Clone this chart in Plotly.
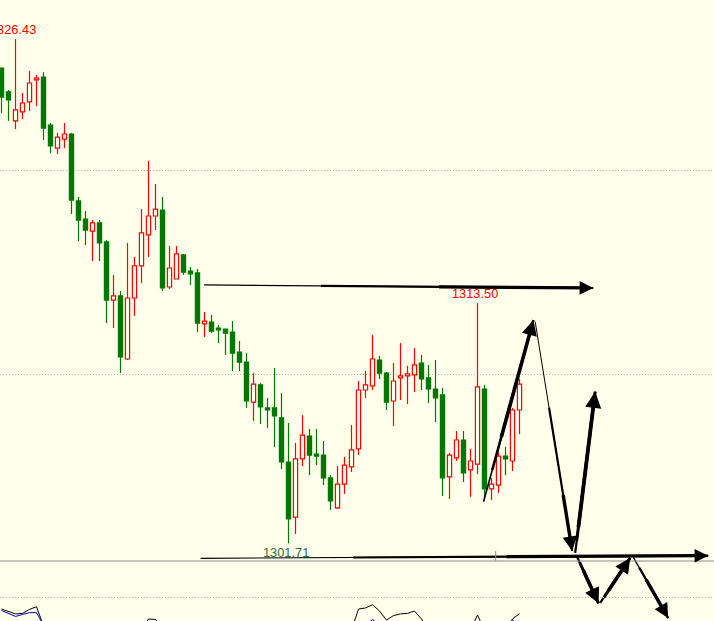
import plotly.graph_objects as go

# ---------------- data ----------------
opens = [1325.01,1323.84,1322.42,1322.86,1323.35,1324.43,1324.57,1322.22,1321.09,1321.53,
         1321.78,1318.50,1317.61,1317.02,1317.42,1316.49,1313.64,1313.84,1310.75,1313.74,
         1315.31,1316.83,1317.76,1318.05,1314.28,1314.67,1315.85,1315.06,1314.97,1312.47,
         1312.56,1312.27,1312.22,1312.07,1311.09,1310.60,1308.64,1309.48,1308.35,1308.35,
         1307.86,1305.70,1303.00,1305.85,1306.97,1306.09,1306.04,1304.92,1303.45,1304.62,
         1305.46,1306.34,1309.23,1309.43,1310.70,1310.06,1308.69,1309.82,1309.92,1309.97,
         1310.55,1309.82,1309.28,1308.99,1304.97,1305.90,1306.78,1305.31,1305.60,1309.28,
         1304.38,1304.57,1305.99,1305.75,1308.25]
highs = [1325.01,1323.94,1326.43,1323.79,1324.87,1324.67,1324.82,1322.32,1321.83,1322.32,
         1321.83,1318.69,1318.00,1317.56,1317.56,1316.58,1314.87,1314.08,1316.44,1315.75,
         1318.10,1320.46,1319.33,1318.69,1316.29,1316.29,1315.90,1315.26,1315.16,1313.05,
         1312.91,1312.42,1312.22,1312.61,1311.63,1311.04,1310.06,1309.57,1308.84,1310.31,
         1309.08,1307.61,1306.63,1308.00,1307.32,1307.32,1306.73,1305.06,1305.50,1305.95,
         1307.51,1309.67,1310.16,1311.93,1310.90,1310.11,1310.55,1311.53,1310.41,1311.29,
         1310.95,1310.46,1310.70,1309.33,1306.14,1307.22,1307.22,1306.34,1313.50,1309.48,
         1304.92,1306.19,1306.44,1308.35,1309.77]
lows = [1322.81,1322.42,1322.02,1322.51,1322.91,1323.15,1321.49,1320.85,1320.80,1321.09,
        1317.86,1316.53,1316.34,1315.55,1315.55,1312.51,1312.27,1310.06,1310.70,1312.86,
        1314.48,1315.75,1317.07,1314.08,1314.18,1314.67,1314.87,1314.38,1312.07,1311.83,
        1312.02,1311.53,1310.95,1310.16,1310.16,1308.35,1307.71,1307.56,1307.37,1306.44,
        1305.36,1301.71,1302.17,1305.50,1305.06,1305.55,1304.57,1303.35,1303.40,1304.13,
        1305.21,1306.04,1308.84,1309.23,1309.77,1308.25,1307.47,1308.74,1308.54,1309.13,
        1309.23,1308.59,1307.66,1304.03,1303.89,1305.75,1304.72,1303.99,1305.11,1303.99,
        1303.84,1304.18,1305.06,1305.26,1307.07]
closes = [1323.59,1323.45,1322.96,1323.30,1324.28,1324.52,1322.07,1321.19,1321.63,1321.78,
          1318.54,1317.56,1317.07,1317.42,1316.44,1313.64,1313.84,1310.85,1313.74,1315.31,
          1316.93,1317.76,1318.10,1314.23,1315.21,1315.90,1315.01,1314.92,1312.51,1312.61,
          1312.12,1312.17,1312.02,1311.04,1310.60,1308.69,1309.52,1308.40,1308.25,1307.96,
          1305.70,1302.91,1305.85,1307.02,1306.04,1305.99,1304.92,1303.79,1304.62,1305.55,
          1306.29,1309.23,1309.48,1310.75,1310.06,1308.64,1309.67,1309.92,1310.02,1310.46,
          1309.77,1309.28,1308.84,1304.92,1306.04,1306.78,1305.16,1305.75,1309.38,1304.38,
          1304.62,1305.99,1305.85,1308.25,1309.52]

# indicator window (only the visible parts)
ind_black = ([73.3, 71.9, 70.6, 70.9, 73.1, 74.6, 63.9] + [None] * 13 +
             [61.7, 67.8, 67.5, 61.7] + [None] * 26 +
             [61.7, 73.3, 73.9, 75.7, 72.2, 67.2, 69.7, 70.6, 70.9, 72.2, 67.8, 60.6] +
             [None] * 5 + [61.7, 70.0, 61.7] + [None] * 2 + [60.6, 67.8, 70.8])
ind_blue = ([72.5, 70.8, 69.2, 70.3, 71.3, 71.3, 64.4] + [None] * 45 +
            [64.4, 67.5, 64.4] + [None] * 17 + [60.0, 67.2, 64.0])

# drawn arrows: (start bar, start price, end bar, end price)
arrow_top = (28.96, 1314.38, 84.53, 1314.23)
arrow_bottom = (28.44, 1300.98, 100.96, 1301.11)
arrow_path = [
    (68.86, 1303.75, 75.99, 1312.66),
    (76.24, 1312.58, 81.53, 1301.34),
    (81.96, 1301.24, 84.81, 1309.15),
    (82.24, 1301.04, 85.29, 1298.77),
    (85.53, 1298.79, 89.81, 1301.00),
    (90.24, 1301.04, 95.24, 1298.05),
]

grid_levels = [1310, 1320]
label_high = "1326.43"
label_high2 = "1313.50"
label_low = "1301.71"

# ---------------- figure ----------------
BG = "#FFFFEC"
GREEN = "#007800"
RED = "#FF0000"

x = list(range(len(opens)))
fig = go.Figure()

up_x, up_base, up_h = [], [], []
dn_x, dn_base, dn_h = [], [], []
wick_up_x, wick_up_y, wick_dn_x, wick_dn_y = [], [], [], []
for i, (o, h, l, c) in enumerate(zip(opens, highs, lows, closes)):
    top, bot = max(o, c), min(o, c)
    if c >= o:
        up_x.append(i); up_base.append(bot); up_h.append(top - bot)
        wick_up_x += [i, i, None, i, i, None]
        wick_up_y += [h, top, None, bot, l, None]
    else:
        dn_x.append(i); dn_base.append(bot); dn_h.append(top - bot)
        wick_dn_x += [i, i, None, i, i, None]
        wick_dn_y += [h, top, None, bot, l, None]

fig.add_trace(go.Bar(x=up_x, y=up_h, base=up_base, width=0.6,
                     marker=dict(color=BG, line=dict(color=RED, width=1.2))))
fig.add_trace(go.Bar(x=dn_x, y=dn_h, base=dn_base, width=0.6,
                     marker=dict(color=GREEN, line=dict(color=GREEN, width=1.2))))
fig.add_trace(go.Scatter(x=wick_up_x, y=wick_up_y, mode="lines",
                         line=dict(color=RED, width=1.2)))
fig.add_trace(go.Scatter(x=wick_dn_x, y=wick_dn_y, mode="lines",
                         line=dict(color=GREEN, width=1.2)))

# indicator lines
fig.add_trace(go.Scatter(x=x, y=ind_black, yaxis="y2", mode="lines",
                         line=dict(color="black", width=1), connectgaps=False))
fig.add_trace(go.Scatter(x=x, y=ind_blue, yaxis="y2", mode="lines",
                         line=dict(color="#0000CC", width=1), connectgaps=False))


def draw_arrow(seg, w0, w1, frac):
    """Hand-drawn style arrow: thin tail that thickens towards the head."""
    x0, y0, x1, y1 = seg
    fig.add_trace(go.Scatter(x=[x0, x1], y=[y0, y1], mode="lines",
                             line=dict(color="black", width=w0)))
    f2 = frac * 0.5
    mx2 = x0 + (x1 - x0) * f2
    my2 = y0 + (y1 - y0) * f2
    fig.add_trace(go.Scatter(x=[mx2, x1], y=[my2, y1], mode="lines",
                             line=dict(color="black", width=(w0 + w1) / 2)))
    mx = x0 + (x1 - x0) * frac
    my = y0 + (y1 - y0) * frac
    fig.add_annotation(x=x1, y=y1, ax=mx, ay=my, xref="x", yref="y",
                       axref="x", ayref="y", text="", showarrow=True,
                       arrowhead=2, arrowsize=0.85, arrowwidth=w1,
                       arrowcolor="black", standoff=0)


draw_arrow(arrow_top, 1.2, 3.2, 0.6)
draw_arrow(arrow_bottom, 1.2, 3.2, 0.6)
path_styles = [(1.6, 3.6, 0.35), (1.0, 3.4, 0.75), (2.2, 3.8, 0.15),
               (2.2, 3.6, 0.25), (2.2, 3.6, 0.25), (1.3, 3.4, 0.35)]
for seg, (w0, w1, fr) in zip(arrow_path, path_styles):
    draw_arrow(seg, w0, w1, fr)

font = dict(family="Liberation Sans, Arial, sans-serif", size=12.8)
fig.add_annotation(x=highs.index(1326.43), y=1326.43, text=label_high,
                   showarrow=False, yanchor="bottom", xshift=-3,
                   font=dict(color=RED, **font))
fig.add_annotation(x=highs.index(1313.50), y=1313.50, text=label_high2,
                   showarrow=False, yanchor="bottom", xshift=-3,
                   font=dict(color=RED, **font))
fig.add_annotation(x=lows.index(1301.71), y=1301.71, text=label_low,
                   showarrow=False, yanchor="top", xshift=-3,
                   font=dict(color="#2E6B3E", **font))

sub_top = 60 / 621
fig.add_shape(type="line", xref="paper", yref="paper", x0=0, x1=1,
              y0=sub_top, y1=sub_top, line=dict(color="#8A8A8A", width=1.2))
fig.add_shape(type="line", xref="x", yref="paper", x0=70.6, x1=70.6,
              y0=sub_top, y1=sub_top + 10 / 621, line=dict(color="#8A8A8A", width=1))

fig.update_layout(
    width=714, height=621,
    margin=dict(l=0, r=0, t=0, b=0),
    paper_bgcolor=BG, plot_bgcolor="rgba(0,0,0,0)",
    showlegend=False, hovermode=False, barmode="overlay",
    xaxis=dict(range=[-1.5 / 7, (714 - 1.5) / 7], showgrid=False, zeroline=False,
               showticklabels=False, ticks="", showline=False, fixedrange=True),
    yaxis=dict(range=[1297.906, 1328.348], tickvals=grid_levels, showgrid=True,
               gridcolor="#B4B4B4", gridwidth=1, griddash="1px,2px", zeroline=False,
               showticklabels=False, ticks="", showline=False, domain=[0, 1]),
    yaxis2=dict(range=[66.67, 100], domain=[0, sub_top], anchor="x",
                tickvals=[80], showgrid=True, gridcolor="#B4B4B4", gridwidth=1,
                griddash="1px,2px", zeroline=False, showticklabels=False, ticks="",
                showline=False),
)

fig.write_html("out.html", config={"displayModeBar": False},
               post_script="document.body.style.margin='0';"
                           "document.body.style.background='" + BG + "';")
